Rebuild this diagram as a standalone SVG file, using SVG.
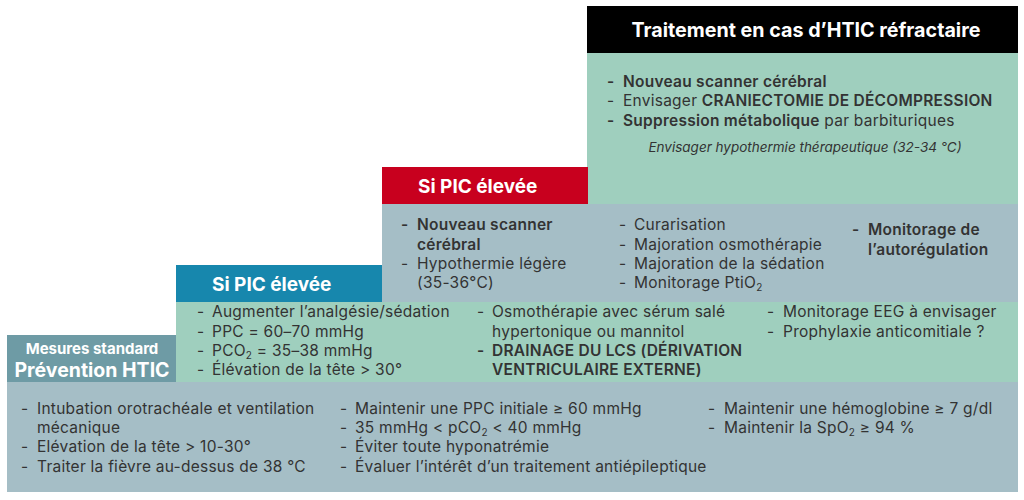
<svg xmlns="http://www.w3.org/2000/svg" width="1024" height="500" viewBox="0 0 1024 500">
<style>
text{font-family:Inter,"Open Sans","Liberation Sans",sans-serif;fill:#333;font-size:15.5px;letter-spacing:0.25px}
.b{font-weight:600}
.h{fill:#fff;font-weight:700;font-size:19px;letter-spacing:0}
.t{font-size:19.7px}
.p{font-size:19.5px}
.m{font-size:15px}
.i{font-style:italic;font-size:13.5px;letter-spacing:0}
.s{font-size:10px}
.green{fill:#9fcfbe}
.grey{fill:#a5bec6}
</style>
<rect width="1024" height="500" fill="#fff"/>

<g id="level4">
<rect x="587" y="6" width="431" height="47" fill="#000"/>
<text class="h t" x="806" y="37" text-anchor="middle">Traitement en cas d’HTIC réfractaire</text>
<rect class="green" x="587" y="53" width="431" height="151"/>
<text x="607" y="87" class="b">-</text><text x="623" y="87" class="b">Nouveau scanner cérébral</text>
<text x="607" y="106">-</text><text x="623" y="106">Envisager <tspan class="b">CRANIECTOMIE DE DÉCOMPRESSION</tspan></text>
<text x="607" y="126" class="b">-</text><text x="623" y="126"><tspan class="b">Suppression métabolique</tspan> par barbituriques</text>
<text class="i" x="805" y="152" text-anchor="middle">Envisager hypothermie thérapeutique (32-34 °C)</text>
</g>

<g id="level3">
<rect x="382" y="167" width="206" height="37" fill="#c8001e"/>
<text class="h" x="418" y="193">Si PIC élevée</text>
<rect class="grey" x="382" y="204" width="636" height="98"/>
<text x="401" y="230" class="b">-</text><text x="417" y="230" class="b">Nouveau scanner</text>
<text x="417" y="250" class="b">cérébral</text>
<text x="401" y="269">-</text><text x="417" y="269">Hypothermie légère</text>
<text x="417" y="288">(35-36°C)</text>
<text x="619" y="230">-</text><text x="634" y="230">Curarisation</text>
<text x="619" y="250">-</text><text x="634" y="250">Majoration osmothérapie</text>
<text x="619" y="269">-</text><text x="634" y="269">Majoration de la sédation</text>
<text x="619" y="288">-</text><text x="634" y="288">Monitorage PtiO<tspan class="s" dy="3">2</tspan></text>
<text x="852" y="235" class="b">-</text><text x="868" y="235" class="b">Monitorage de</text>
<text x="868" y="255" class="b">l’autorégulation</text>
</g>

<g id="level2">
<rect x="176" y="265" width="206" height="37" fill="#1787ad"/>
<text class="h" x="212" y="291">Si PIC élevée</text>
<rect class="green" x="176" y="302" width="842" height="80"/>
<text x="197" y="317">-</text><text x="212" y="317">Augmenter l’analgésie/sédation</text>
<text x="197" y="337">-</text><text x="212" y="337">PPC = 60–70 mmHg</text>
<text x="197" y="356">-</text><text x="212" y="356">PCO<tspan class="s" dy="3">2</tspan><tspan dy="-3"> = 35–38 mmHg</tspan></text>
<text x="197" y="375">-</text><text x="212" y="375">Élévation de la tête &gt; 30°</text>
<text x="477" y="317">-</text><text x="492" y="317">Osmothérapie avec sérum salé</text>
<text x="492" y="337">hypertonique ou mannitol</text>
<text x="477" y="356" class="b">-</text><text x="492" y="356" class="b">DRAINAGE DU LCS (DÉRIVATION</text>
<text x="492" y="375" class="b">VENTRICULAIRE EXTERNE)</text>
<text x="767" y="317">-</text><text x="783" y="317">Monitorage EEG à envisager</text>
<text x="767" y="337">-</text><text x="783" y="337">Prophylaxie anticomitiale ?</text>
</g>

<g id="level1">
<rect x="7" y="335" width="169" height="47" fill="#6e9ba5"/>
<text class="h m" x="92" y="354" text-anchor="middle">Mesures standard</text>
<text class="h p" x="92" y="377" text-anchor="middle">Prévention HTIC</text>
<rect class="grey" x="7" y="382" width="1011" height="110"/>
<text x="21" y="414">-</text><text x="37" y="414">Intubation orotrachéale et ventilation</text>
<text x="37" y="433">mécanique</text>
<text x="21" y="452">-</text><text x="37" y="452">Elévation de la tête &gt; 10-30°</text>
<text x="21" y="472">-</text><text x="37" y="472">Traiter la fièvre au-dessus de 38 °C</text>
<text x="340" y="414">-</text><text x="355" y="414">Maintenir une PPC initiale ≥ 60 mmHg</text>
<text x="340" y="433">-</text><text x="355" y="433">35 mmHg &lt; pCO<tspan class="s" dy="3">2</tspan><tspan dy="-3"> &lt; 40 mmHg</tspan></text>
<text x="340" y="452">-</text><text x="355" y="452">Éviter toute hyponatrémie</text>
<text x="340" y="472">-</text><text x="355" y="472">Évaluer l’intérêt d’un traitement antiépileptique</text>
<text x="708" y="414">-</text><text x="724" y="414">Maintenir une hémoglobine ≥ 7 g/dl</text>
<text x="708" y="433">-</text><text x="724" y="433">Maintenir la SpO<tspan class="s" dy="3">2</tspan><tspan dy="-3"> ≥ 94 %</tspan></text>
</g>
</svg>
